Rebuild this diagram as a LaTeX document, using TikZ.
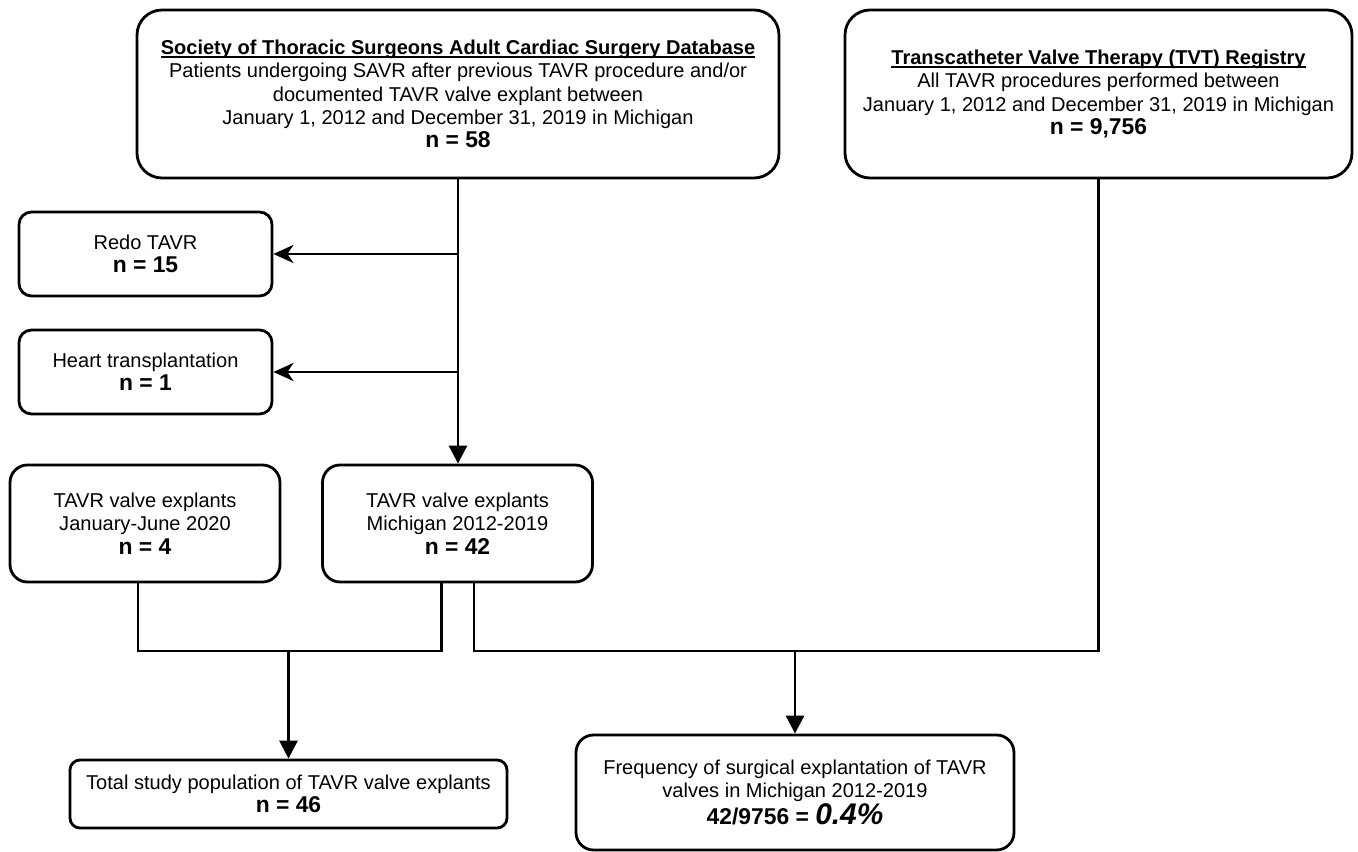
\documentclass[tikz,border=0pt]{standalone}
\usepackage{fontspec}
\setmainfont{Liberation Sans}
\usepackage{tikz}
\usetikzlibrary{arrows.meta}

\newcommand{\nval}[1]{{\fontsize{13}{15}\selectfont\bfseries #1}}
\newlength{\titlewd}
\newcommand{\boxtitle}[1]{\settowidth{\titlewd}{\textbf{#1}}\textbf{#1}\llap{\rule[-1.9pt]{\titlewd}{0.8pt}}}

\begin{document}
\begin{tikzpicture}
				[line width=1.6pt,every node/.style={draw,align=center,inner sep=0pt,font=\fontsize{11.4}{13.3}\selectfont},
				down/.style={-{Triangle[length=0.36cm,width=0.36cm]}},
				side/.style={-{Stealth[length=0.4cm,width=0.36cm,inset=0.12cm]}}]
				\useasboundingbox (0,0) rectangle (27.16,-17.04);
				
				\node[rounded corners=0.5cm,minimum width=12.84cm,minimum height=3.36cm] (sts) at (9.16,-1.88)
					{\boxtitle{Society of Thoracic Surgeons Adult Cardiac Surgery Database}\\
					Patients undergoing SAVR after previous TAVR procedure and/or\\
					documented TAVR valve explant between\\
					January 1, 2012 and December 31, 2019 in Michigan\\
					\nval{n = 58}};
				\node[rounded corners=0.5cm,minimum width=10.14cm,minimum height=3.36cm] (tvt) at (21.97,-1.88)
					{\boxtitle{Transcatheter Valve Therapy (TVT) Registry}\\
					All TAVR procedures performed between\\
					January 1, 2012 and December 31, 2019 in Michigan\\
					\nval{n = 9,756}};
				\node[rounded corners=0.25cm,minimum width=5.06cm,minimum height=1.68cm] (redo) at (2.91,-5.08) {Redo TAVR\\ \nval{n = 15}};
				\node[rounded corners=0.25cm,minimum width=5.06cm,minimum height=1.68cm] (heart) at (2.91,-7.44) {Heart transplantation\\ \nval{n = 1}};
				\node[rounded corners=0.35cm,minimum width=5.4cm,minimum height=2.34cm] (jan) at (2.9,-10.47) {TAVR valve explants\\ January-June 2020\\ \nval{n = 4}};
				\node[rounded corners=0.35cm,minimum width=5.4cm,minimum height=2.34cm] (mich) at (9.15,-10.47) {TAVR valve explants\\ Michigan 2012-2019\\ \nval{n = 42}};
				\node[rounded corners=0.2cm,minimum width=8.74cm,minimum height=1.36cm] (total) at (5.77,-15.88) {Total study population of TAVR valve explants\\ \nval{n = 46}};
				\node[rounded corners=0.35cm,minimum width=8.76cm,minimum height=2.3cm] (freq) at (15.9,-15.85)
					{Frequency of surgical explantation of TAVR\\
					valves in Michigan 2012-2019\\
					\nval{42/9756 = {\fontsize{17}{15}\selectfont\itshape 0.4\%}}};
				
				\coordinate (jb) at ([xshift=-0.14cm]jan.south);
				\coordinate (ml) at ([xshift=-0.32cm]mich.south);
				\coordinate (mr) at ([xshift=0.33cm]mich.south);
				\coordinate (bar) at (0,-13.02);
				
				\draw[down] (sts.south) -- (sts.south |- mich.north);
				\foreach \to in {redo,heart}
				\draw[side] (sts.south |- \to.east) -- (\to.east);
				
				\draw (jb) |- (bar -| ml) -- (ml);
				\draw[down] (bar -| total.north) -- (total.north);
				\draw (mr) |- (bar -| tvt.south) -- (tvt.south);
				\draw[down] (bar -| freq.north) -- (freq.north);
				
\end{tikzpicture}
\end{document}
